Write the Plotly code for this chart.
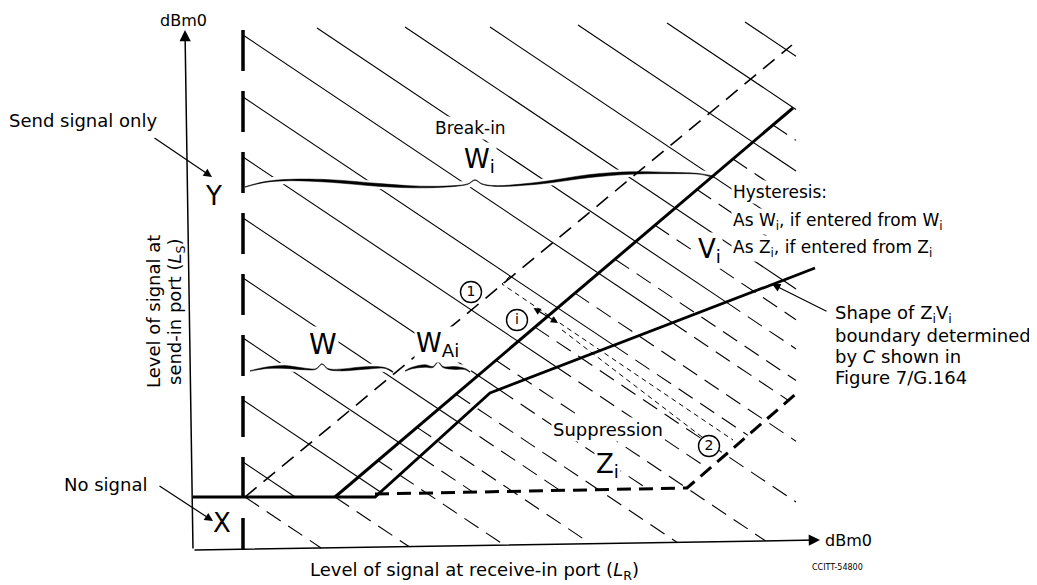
import numpy as np
import plotly.graph_objects as go

# Diagram drawn in a 1037 x 585 "pixel" coordinate frame, y pointing down.
# The page body has an 8 px margin, so the figure starts at 8, 8.
PAGE_MARGIN = 8
HATCH_SLOPE = 0.67
RIGHT_EDGE = 796

# First hatch family: solid above the Z_iV_i boundary, dashed inside Z_i
S_START_X = [243, 243, 243, 243, 243, 243, 243, 243, 317, 405, 490, 578, 667, 745]
S_START_Y = [35, 97, 157, 218, 278, 338, 400, 462, 28, 27, 27, 25, 23, 22]

# Second hatch family: dashed, starting on the break-in boundary
D_START_X = [245, 335, 378, 417, 456, 496, 535, 575, 615, 655, 697, 733, 773]

# Boundaries
BREAKIN_X = [245, 335, 793]
BREAKIN_Y = [497, 497, 108]
ZV_X = [193, 375, 490, 815]
ZV_Y = [497, 497, 393, 268]
ZI_X = [375, 687, 797]
ZI_Y = [494, 488, 393]
LINE1_X = [245, 792]
LINE1_Y = [497, 45]
FINE1_X = [510, 502, 733]
FINE1_Y = [276, 284, 440]
FINE2_X = [562, 702]
FINE2_Y = [330, 437]
AXIS_X = [193, 820]
AXIS_Y = [550, 540]
YAXIS_X = [193, 185]
YAXIS_Y = [550, 30]
DASHED_V_X = [243, 243]
DASHED_V_Y = [30, 550]

# Braces (centre lines) and their cusps
WI_BRACE_X = [245, 265, 290, 330, 380, 420, 455, 468, 475, 482, 495, 540, 590, 630, 670, 700, 714]
WI_BRACE_Y = [187, 182, 180, 181, 185, 187, 186, 184, 180, 184, 186, 183, 176, 173, 173, 174, 177]
WI_CUSP = 475
W_BRACE_X = [250, 265, 285, 305, 316, 322, 328, 340, 365, 385, 393]
W_BRACE_Y = [371, 368, 367, 369, 369, 364, 369, 370, 368, 368, 372]
W_CUSP = 322
WAI_BRACE_X = [405, 412, 425, 433, 438, 443, 455, 465, 470]
WAI_BRACE_Y = [371, 368, 366, 367, 362, 367, 368, 369, 372]
WAI_CUSP = 438

# Circled markers
CIRCLE_X = [471, 517, 709]
CIRCLE_Y = [292, 320, 446]
CIRCLE_TEXT = ["1", "i", "2"]

FONT = "DejaVu Sans"


def ray_hit(x0, y0, px, py):
    """First x > x0 where the hatch ray from (x0, y0) crosses polyline px/py."""
    best = None
    for i in range(len(px) - 1):
        xa, ya, xb, yb = px[i], py[i], px[i + 1], py[i + 1]
        dx, dy = xb - xa, yb - ya
        den = dy - HATCH_SLOPE * dx
        if abs(den) < 1e-9:
            continue
        t = (y0 + HATCH_SLOPE * (xa - x0) - ya) / den
        if 0 <= t <= 1:
            x = xa + t * dx
            if x > x0 + 0.5 and (best is None or x < best):
                best = x
    return best


def hatch_y(x0, y0, x):
    return y0 + HATCH_SLOPE * (x - x0)


solid_x, solid_y, dash_x, dash_y = [], [], [], []


def add_seg(xs, ys, x0, y0, xa, xb):
    xs += [xa, xb, None]
    ys += [hatch_y(x0, y0, xa), hatch_y(x0, y0, xb), None]


for x0, y0 in zip(S_START_X, S_START_Y):
    x1 = ray_hit(x0, y0, ZV_X, ZV_Y)
    if x1 is None or x1 >= RIGHT_EDGE:
        add_seg(solid_x, solid_y, x0, y0, x0, RIGHT_EDGE)
        continue
    add_seg(solid_x, solid_y, x0, y0, x0, x1)
    if x1 <= ZV_X[1] + 0.01:
        continue
    x2 = ray_hit(x1, hatch_y(x0, y0, x1), ZI_X, ZI_Y)
    x2 = RIGHT_EDGE if x2 is None else min(x2, RIGHT_EDGE)
    add_seg(dash_x, dash_y, x0, y0, x1, x2)

for x0 in D_START_X:
    y0 = float(np.interp(x0, BREAKIN_X, BREAKIN_Y))
    x2 = ray_hit(x0, y0, AXIS_X, AXIS_Y)
    x2 = RIGHT_EDGE if x2 is None else min(x2, RIGHT_EDGE)
    add_seg(dash_x, dash_y, x0, y0, x0, x2)


def brace_polygon(xs, ys, cusp, wmax):
    x = np.array(xs, dtype=float)
    y = np.array(ys, dtype=float)
    t = np.where(x <= cusp, (x - x[0]) / (cusp - x[0]), (x[-1] - x) / (x[-1] - cusp))
    w = 0.6 + wmax * np.sin(np.pi * t) ** 2
    px = np.concatenate([x, x[::-1]])
    py = np.concatenate([y - w / 2, (y + w / 2)[::-1]])
    return px, py


def line(x, y, width, dash="solid", color="black", shape="linear"):
    return go.Scatter(x=x, y=y, mode="lines", hoverinfo="skip",
                      line=dict(color=color, width=width, dash=dash, shape=shape))


fig = go.Figure()

# hatching
fig.add_trace(line(solid_x, solid_y, 1.1))
fig.add_trace(line(dash_x, dash_y, 1.1, dash="17px,9px"))

# braces: white gap first, then the calligraphic brace
for bx, by, cusp, wmax in [(WI_BRACE_X, WI_BRACE_Y, WI_CUSP, 2.4),
                           (W_BRACE_X, W_BRACE_Y, W_CUSP, 2.2),
                           (WAI_BRACE_X, WAI_BRACE_Y, WAI_CUSP, 2.2)]:
    fig.add_trace(line(bx, by, 8, color="white", shape="spline"))
    px, py = brace_polygon(bx, by, cusp, wmax)
    fig.add_trace(go.Scatter(x=px, y=py, mode="lines", fill="toself", fillcolor="black",
                             hoverinfo="skip", line=dict(color="black", width=0.5, shape="spline")))

# boundary lines
fig.add_trace(line(LINE1_X, LINE1_Y, 1.6, dash="15px,9px"))
fig.add_trace(line(FINE1_X, FINE1_Y, 1.0, dash="5px,4px"))
fig.add_trace(line(FINE2_X, FINE2_Y, 1.0, dash="5px,4px"))
fig.add_trace(line([BREAKIN_X[1], BREAKIN_X[2]], [BREAKIN_Y[1], BREAKIN_Y[2]], 3))
fig.add_trace(line(ZV_X, ZV_Y, 2.8))
fig.add_trace(line(ZI_X, ZI_Y, 3, dash="14px,8px"))
fig.add_trace(line(DASHED_V_X, DASHED_V_Y, 3.5, dash="41px,20px"))

# circled labels
fig.add_trace(go.Scatter(
    x=CIRCLE_X, y=CIRCLE_Y, mode="markers+text", text=CIRCLE_TEXT,
    textposition="middle center", hoverinfo="skip", cliponaxis=False,
    textfont=dict(family=FONT, size=14, color="black"),
    marker=dict(size=21, color="white", line=dict(color="black", width=1.4)),
))

annotations = []


def label(x, y, text, size=18, bg=None, xanchor="center", angle=0):
    annotations.append(dict(
        x=x, y=y, xref="x", yref="y", text=text, showarrow=False,
        xanchor=xanchor, yanchor="middle", textangle=angle,
        font=dict(family=FONT, size=size, color="black"),
        bgcolor=bg if bg else "rgba(0,0,0,0)", borderpad=1,
    ))


def arrow(x_tip, y_tip, x_tail, y_tail, width=1.2, size=1.4, side="end"):
    annotations.append(dict(
        x=x_tip, y=y_tip, ax=x_tail, ay=y_tail, xref="x", yref="y",
        axref="x", ayref="y", text="", showarrow=True, arrowhead=2,
        arrowsize=size, arrowwidth=width, arrowcolor="black",
        arrowside=side, standoff=0, startstandoff=0,
    ))


# axes
arrow(YAXIS_X[1], YAXIS_Y[1], YAXIS_X[0], YAXIS_Y[0], width=1.5, size=1.5)
arrow(AXIS_X[1], AXIS_Y[1], AXIS_X[0], AXIS_Y[0], width=1.5, size=1.5)
label(183, 20, "dBm0", size=16)
label(823, 540, "dBm0", size=16, xanchor="left")
label(837, 567, "CCITT-54800", size=8)

label(153, 312, "Level of signal at", angle=-90)
label(176, 312, "send-in port (<i>L</i><sub>S</sub>)", angle=-90)
label(474, 571, "Level of signal at receive-in port (<i>L</i><sub>R</sub>)")

label(83, 120, "Send signal only")
arrow(212, 177, 153, 137)
label(213, 196, "Y", size=26)
label(105, 484, "No signal")
arrow(213, 521, 158, 485)
label(222, 523, "X", size=26)

label(470, 128, "Break-in", size=17, bg="white")
label(479, 160, "W<sub>i</sub>", size=26, bg="white")
label(323, 344, "W", size=28, bg="white")
label(437, 344, "W<sub>Ai</sub>", size=26, bg="white")
label(709, 250, "V<sub>i</sub>", size=26, bg="white")
label(608, 429, "Suppression", size=18, bg="white")
label(607, 465, "Z<sub>i</sub>", size=26, bg="white")

label(731, 192, "Hysteresis:", size=17, xanchor="left", bg="white")
label(731, 221, "As W<sub>i</sub>, if entered from W<sub>i</sub>", size=17, xanchor="left", bg="white")
label(731, 248, "As Z<sub>i</sub>, if entered from Z<sub>i</sub>", size=17, xanchor="left", bg="white")

label(833, 314, "Shape of Z<sub>i</sub>V<sub>i</sub>", xanchor="left")
label(833, 335, "boundary determined", xanchor="left")
label(833, 356, "by <i>C</i> shown in", xanchor="left")
label(833, 377, "Figure 7/G.164", xanchor="left")
arrow(772, 284, 828, 312)

arrow(558, 323, 532, 307, side="end+start", size=1.2)

fig.update_layout(
    width=1037 - PAGE_MARGIN, height=585 - PAGE_MARGIN,
    margin=dict(l=0, r=0, t=0, b=0),
    paper_bgcolor="white", plot_bgcolor="white",
    showlegend=False,
    xaxis=dict(range=[PAGE_MARGIN, 1037], visible=False, fixedrange=True),
    yaxis=dict(range=[585, PAGE_MARGIN], visible=False, fixedrange=True),
    annotations=annotations,
)

fig.write_html("out.html")
